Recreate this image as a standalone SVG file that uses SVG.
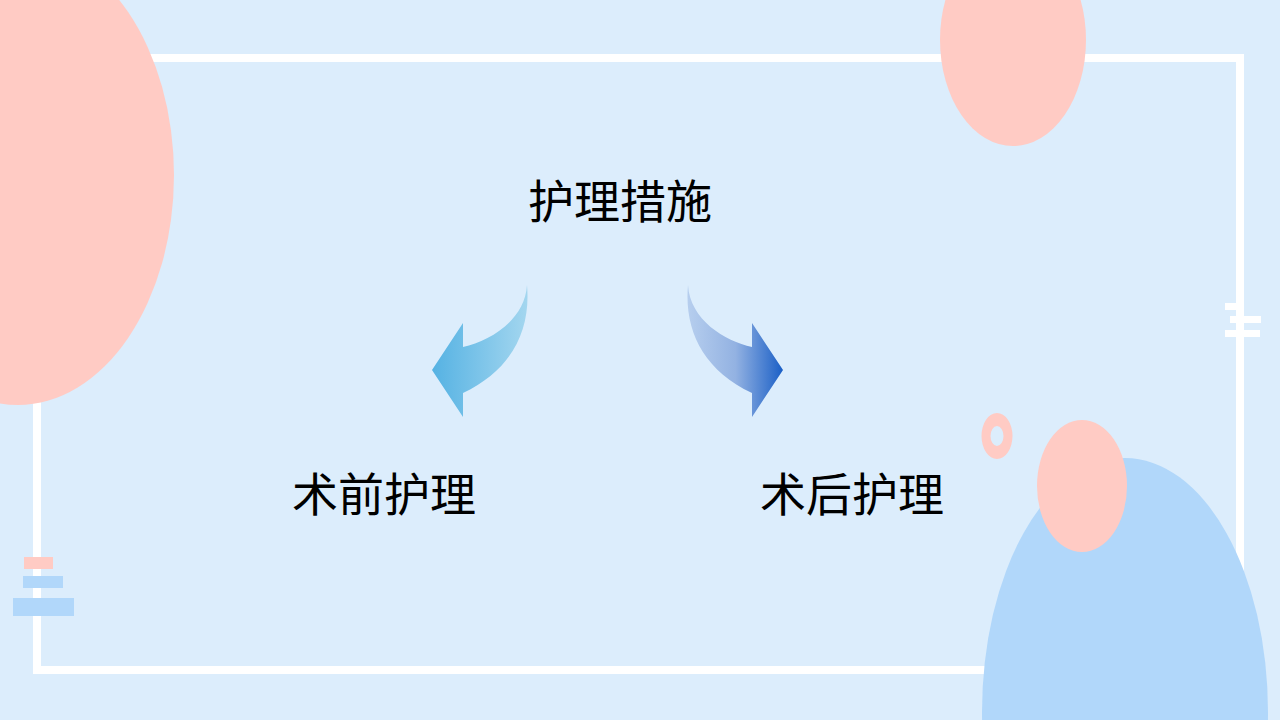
<svg xmlns="http://www.w3.org/2000/svg" width="1280" height="720" viewBox="0 0 1280 720">
<defs>
<style>
.pink{fill:#FFCBC4}
.blue{fill:#B1D7FA}
.white{fill:#FFFFFF}
.label{font-family:"Noto Sans CJK SC","Noto Sans",sans-serif;font-size:46px;fill:#000000;text-anchor:middle}
</style>
<linearGradient id="gl" gradientUnits="userSpaceOnUse" x1="432" y1="0" x2="527" y2="0">
<stop offset="0" stop-color="#55B2E3"/>
<stop offset="1" stop-color="#A3D6EF"/>
</linearGradient>
<linearGradient id="gr" gradientUnits="userSpaceOnUse" x1="688" y1="0" x2="783" y2="0">
<stop offset="0" stop-color="#B6CEEE"/>
<stop offset="0.5" stop-color="#93B2E2"/>
<stop offset="1" stop-color="#1A5FC6"/>
</linearGradient>
</defs>
<rect width="1280" height="720" fill="#DCEDFC"/>
<g id="frame">
<rect x="37" y="58" width="1203" height="612" fill="none" stroke="#FFFFFF" stroke-width="8"/>
</g>
<g id="decor">
<ellipse class="pink" cx="18" cy="175" rx="156" ry="230"/>
<ellipse class="pink" cx="1013" cy="40" rx="73" ry="106"/>
<ellipse class="blue" cx="1125" cy="712" rx="143" ry="254"/>
<ellipse class="pink" cx="1082" cy="486" rx="45" ry="66"/>
<path class="pink" fill-rule="evenodd" d="M981.5 436 A15.5 23 0 1 0 1012.5 436 A15.5 23 0 1 0 981.5 436 Z M990.5 436 A6.5 10 0 1 0 1003.5 436 A6.5 10 0 1 0 990.5 436 Z"/>
<rect class="white" x="1225" y="303" width="18" height="7"/>
<rect class="white" x="1230" y="316" width="31" height="7"/>
<rect class="white" x="1225" y="330" width="35" height="7"/>
<rect class="pink" x="24" y="557" width="29" height="12"/>
<rect class="blue" x="23" y="576" width="40" height="12"/>
<rect class="blue" x="13" y="598" width="61" height="18"/>
</g>
<g id="connectors">
<path d="M432 370 L463 323 L463 347 C490 341 525 320 527 285 C531 330 512 370 463 393 L463 417 Z" fill="url(#gl)"/>
<path d="M783 370 L752 323 L752 347 C725 341 690 320 688 285 C684 330 703 370 752 393 L752 417 Z" fill="url(#gr)"/>
</g>
<g id="node-main">
<text class="label" x="620" y="218">护理措施</text>
</g>
<g id="node-pre">
<text class="label" x="384" y="511">术前护理</text>
</g>
<g id="node-post">
<text class="label" x="852" y="511">术后护理</text>
</g>
</svg>
